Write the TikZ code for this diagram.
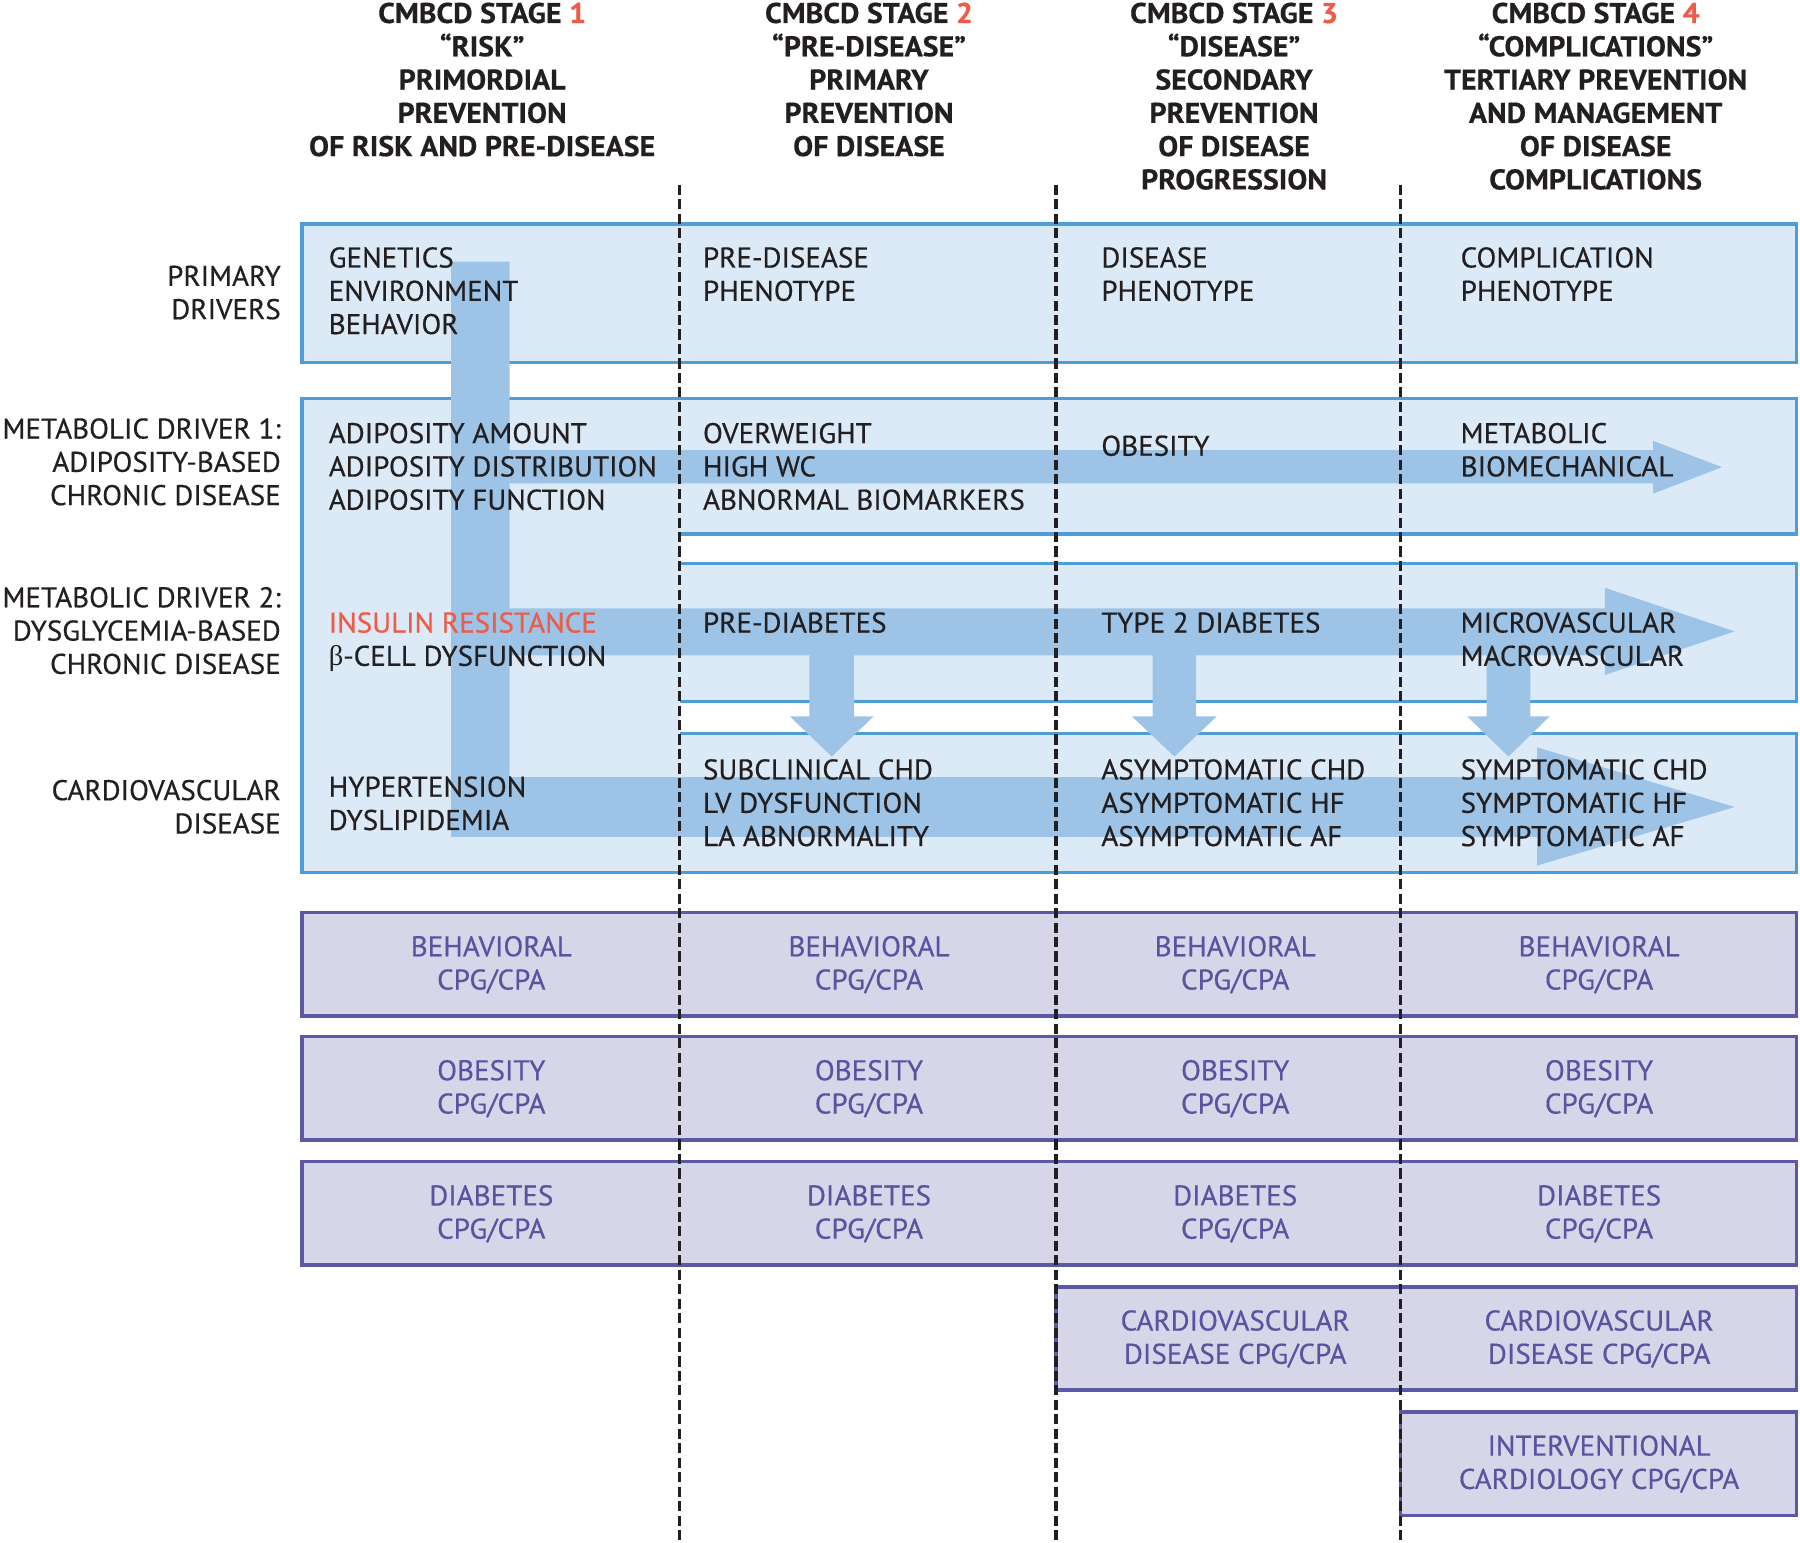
\documentclass[tikz,border=0pt]{standalone}
\usepackage{fontspec}
\setmainfont{PT Sans}[FakeStretch=1.02, FakeBold=0.5, BoldFeatures={FakeStretch=1.05}]
\newfontfamily\grkfont{Liberation Serif}
\definecolor{darktext}{HTML}{231F20}
\definecolor{accent}{HTML}{EE5B47}
\definecolor{boxfill}{HTML}{DCEAF7}
\definecolor{boxline}{HTML}{4E9DD8}
\definecolor{arrowc}{HTML}{9DC3E6}
\definecolor{purfill}{HTML}{D7D6E9}
\definecolor{purline}{HTML}{5B59A5}
\definecolor{purtext}{HTML}{5854A0}
\newcommand\Lstack[1]{\vtop{\halign{##\hfil\cr#1\crcr}}}
\newcommand\Cstack[1]{\vtop{\halign{\hfil##\hfil\cr#1\crcr}}}
\newcommand\Rstack[1]{\vtop{\halign{\hfil##\cr#1\crcr}}}
\begin{document}
\begin{tikzpicture}[x=0.5pt,y=-0.5pt,
  txt/.style={font=\fontsize{12.4}{14.5}\selectfont, text=darktext, inner sep=0pt},
  rowlab/.style={txt, anchor=base east},
  cell/.style={txt, anchor=base west},
  hdr/.style={font=\bfseries\fontsize{12.4}{14.5}\selectfont, text=darktext, inner sep=0pt, anchor=base},
  ptxt/.style={txt, text=purtext, anchor=base},
  bluefill/.style={fill=boxfill},
  blueline/.style={draw=boxline, line width=1.5pt},
  purbox/.style={fill=purfill, draw=purline, line width=1.5pt},
  flow/.style={fill=arrowc},
  stagediv/.style={draw=darktext, line width=1.6pt, dash pattern=on 4.4pt off 1.9pt}]
\useasboundingbox (0,0) rectangle (1568,1344);

% ---------- blue panels ----------
\fill[bluefill] (263,195) rectangle (1565,316);
\fill[bluefill] (263,347) -- (1565,347) -- (1565,465) -- (592,465) -- (592,491)
  -- (1565,491) -- (1565,611) -- (592,611) -- (592,639) -- (1565,639)
  -- (1565,760) -- (263,760) -- cycle;
\draw[blueline] (263,195) rectangle (1565,316);
\draw[blueline] (592,465) -- (1565,465) -- (1565,347) -- (263,347) -- (263,760)
  -- (1565,760) -- (1565,639) -- (592,639);
\draw[blueline] (592,491) -- (1565,491) -- (1565,611) -- (592,611);

% ---------- block arrows ----------
\fill[flow] (393,228) -- (444,228) -- (444,677) -- (1339,677) -- (1339,651)
  -- (1511,703) -- (1339,754) -- (1339,729) -- (393,729) -- cycle;
\fill[flow] (444,392) -- (1440,392) -- (1440,384) -- (1500,407) -- (1440,430)
  -- (1440,421) -- (444,421) -- cycle;
\fill[flow] (444,530) -- (1398,530) -- (1398,512) -- (1511,550) -- (1398,588)
  -- (1398,571) -- (444,571) -- cycle;
\fill[flow] (705,570) -- (744,570) -- (744,624) -- (761,624) -- (724.5,659)
  -- (688,624) -- (705,624) -- cycle;
\fill[flow] (1004,570) -- (1042,570) -- (1042,624) -- (1060,624) -- (1023,659)
  -- (986,624) -- (1004,624) -- cycle;
\fill[flow] (1295,570) -- (1333,570) -- (1333,624) -- (1350,624) -- (1314,659)
  -- (1278,624) -- (1295,624) -- cycle;

% ---------- purple panels ----------
\draw[purbox] (263,795) rectangle (1565,885);
\draw[purbox] (263,903) rectangle (1565,993);
\draw[purbox] (263,1012) rectangle (1565,1102);
\draw[purbox] (920,1121) rectangle (1565,1211);
\draw[purbox] (1220,1230) rectangle (1565,1320);

% ---------- headers ----------
\node[hdr] (h1) at (420,20) {\Cstack{CMBCD STAGE \textcolor{accent}{1}\cr
  “RISK”\cr PRIMORDIAL\cr PREVENTION\cr OF RISK AND PRE-DISEASE}};
\node[hdr] (h2) at (757,20) {\Cstack{CMBCD STAGE \textcolor{accent}{2}\cr
  “PRE-DISEASE”\cr PRIMARY\cr PREVENTION\cr OF DISEASE}};
\node[hdr] (h3) at (1075,20) {\Cstack{CMBCD STAGE \textcolor{accent}{3}\cr
  “DISEASE”\cr SECONDARY\cr PREVENTION\cr OF DISEASE\cr PROGRESSION}};
\node[hdr] (h4) at (1390,20) {\Cstack{CMBCD STAGE \textcolor{accent}{4}\cr
  “COMPLICATIONS”\cr TERTIARY PREVENTION\cr AND MANAGEMENT\cr OF DISEASE\cr COMPLICATIONS}};

% ---------- row labels ----------
\node[rowlab] (lprim) at (245,249) {\Rstack{PRIMARY\cr DRIVERS}};
\node[rowlab] (lmd1) at (245,382) {\Rstack{METABOLIC DRIVER 1:\cr ADIPOSITY-BASED\cr CHRONIC DISEASE}};
\node[rowlab] (lmd2) at (245,529) {\Rstack{METABOLIC DRIVER 2:\cr DYSGLYCEMIA-BASED\cr CHRONIC DISEASE}};
\node[rowlab] (lcv) at (245,697) {\Rstack{CARDIOVASCULAR\cr DISEASE}};

% ---------- cells ----------
\node[cell] (c11) at (286,233) {\Lstack{GENETICS\cr ENVIRONMENT\cr BEHAVIOR}};
\node[cell] (c12) at (612,233) {\Lstack{PRE-DISEASE\cr PHENOTYPE}};
\node[cell] (c13) at (959,233) {\Lstack{DISEASE\cr PHENOTYPE}};
\node[cell] (c14) at (1272,233) {\Lstack{COMPLICATION\cr PHENOTYPE}};

\node[cell] (c21) at (286,386) {\Lstack{ADIPOSITY AMOUNT\cr ADIPOSITY DISTRIBUTION\cr ADIPOSITY FUNCTION}};
\node[cell] (c22) at (612,386) {\Lstack{OVERWEIGHT\cr HIGH WC\cr ABNORMAL BIOMARKERS}};
\node[cell] (c23) at (959,397) {OBESITY};
\node[cell] (c24) at (1272,386) {\Lstack{METABOLIC\cr BIOMECHANICAL}};

\node[cell] (c31) at (286,551) {\Lstack{\textcolor{accent}{INSULIN RESISTANCE}\cr {\grkfont β}-CELL DYSFUNCTION}};
\node[cell] (c32) at (612,551) {PRE-DIABETES};
\node[cell] (c33) at (959,551) {TYPE 2 DIABETES};
\node[cell] (c34) at (1272,551) {\Lstack{MICROVASCULAR\cr MACROVASCULAR}};

\node[cell] (c41) at (286,694) {\Lstack{HYPERTENSION\cr DYSLIPIDEMIA}};
\node[cell] (c42) at (612,679) {\Lstack{SUBCLINICAL CHD\cr LV DYSFUNCTION\cr LA ABNORMALITY}};
\node[cell] (c43) at (959,679) {\Lstack{ASYMPTOMATIC CHD\cr ASYMPTOMATIC HF\cr ASYMPTOMATIC AF}};
\node[cell] (c44) at (1272,679) {\Lstack{SYMPTOMATIC CHD\cr SYMPTOMATIC HF\cr SYMPTOMATIC AF}};

% ---------- guideline texts ----------
\foreach \cx/\k in {428/1, 757/2, 1076/3, 1393/4}{
  \node[ptxt] (b\k) at (\cx,833) {\Cstack{BEHAVIORAL\cr CPG/CPA}};
  \node[ptxt] (o\k) at (\cx,941) {\Cstack{OBESITY\cr CPG/CPA}};
  \node[ptxt] (d\k) at (\cx,1050) {\Cstack{DIABETES\cr CPG/CPA}};
}
\node[ptxt] (cv3) at (1076,1159) {\Cstack{CARDIOVASCULAR\cr DISEASE CPG/CPA}};
\node[ptxt] (cv4) at (1393,1159) {\Cstack{CARDIOVASCULAR\cr DISEASE CPG/CPA}};
\node[ptxt] (ic4) at (1393,1268) {\Cstack{INTERVENTIONAL\cr CARDIOLOGY CPG/CPA}};

% ---------- stage dividers ----------
\coordinate (s12t) at (592,161); \coordinate (s12b) at (592,1344);
\coordinate (s23t) at (920,161); \coordinate (s23b) at (920,1344);
\coordinate (s34t) at (1220,161); \coordinate (s34b) at (1220,1344);
\draw[stagediv] (s12t) -- (s12b);
\draw[stagediv] (s23t) -- (s23b);
\draw[stagediv] (s34t) -- (s34b);
\end{tikzpicture}
\end{document}
